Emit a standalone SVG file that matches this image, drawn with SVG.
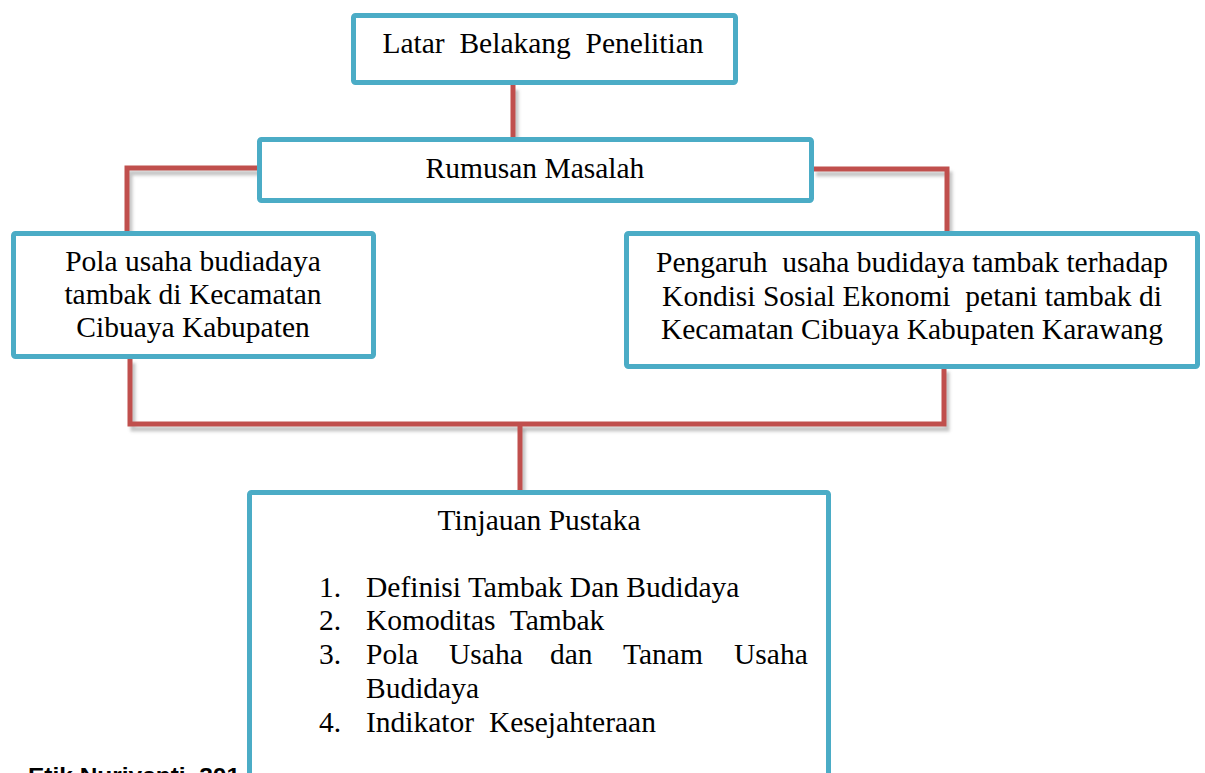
<svg xmlns="http://www.w3.org/2000/svg" width="1205" height="773" viewBox="0 0 1205 773" xml:space="preserve">
<defs>
<filter id="sh" filterUnits="userSpaceOnUse" x="0" y="0" width="1205" height="773">
<feDropShadow dx="3" dy="5" stdDeviation="1.5" flood-color="#808080" flood-opacity="0.45"/>
</filter>
</defs>
<style>
.conn{fill:none;stroke:#C0504D;stroke-width:5;stroke-linejoin:miter;filter:url(#sh)}
.box{fill:#FFFFFF;stroke:#4BACC6;stroke-width:5}
.t{font-family:"Liberation Serif","Times New Roman",serif;font-size:29.5px;fill:#000;white-space:pre}
.c{text-anchor:middle}
.note{font-family:"Liberation Sans",Arial,sans-serif;font-weight:bold;font-size:22px;fill:#000}
</style>
<rect width="1205" height="773" fill="#FFFFFF"/>
<text class="note" x="28" y="783" textLength="212" lengthAdjust="spacingAndGlyphs">Etik Nuriyanti, 201</text>
<g id="connectors">
<path class="conn" d="M513 85 V137"/>
<path class="conn" d="M258 168 H127 V232"/>
<path class="conn" d="M813 169 H947 V232"/>
<path class="conn" d="M130 358 V424 H944 V367"/>
<path class="conn" d="M520 424 V490"/>
</g>
<g id="latar">
<rect class="box" x="353.5" y="15.5" width="382" height="67" rx="2"/>
<text class="t c" x="543" y="53">Latar  Belakang  Penelitian</text>
</g>
<g id="rumusan">
<rect class="box" x="259.5" y="139.5" width="552" height="61" rx="2"/>
<text class="t c" x="535" y="178">Rumusan Masalah</text>
</g>
<g id="pola">
<rect class="box" x="13.5" y="233.5" width="360" height="123" rx="2"/>
<text class="t c" x="193" y="271">Pola usaha budiadaya</text>
<text class="t c" x="193" y="304">tambak di Kecamatan</text>
<text class="t c" x="193" y="337">Cibuaya Kabupaten</text>
</g>
<g id="pengaruh">
<rect class="box" x="626.5" y="233.5" width="571" height="133" rx="2"/>
<text class="t c" x="912" y="272">Pengaruh  usaha budidaya tambak terhadap</text>
<text class="t c" x="912" y="306">Kondisi Sosial Ekonomi  petani tambak di</text>
<text class="t c" x="912" y="339">Kecamatan Cibuaya Kabupaten Karawang</text>
</g>
<g id="tinjauan">
<rect class="box" x="249.5" y="492.5" width="579" height="300" rx="2"/>
<text class="t c" x="539" y="530">Tinjauan Pustaka</text>
<text class="t" x="319" y="597">1.</text>
<text class="t" x="366" y="597">Definisi Tambak Dan Budidaya</text>
<text class="t" x="319" y="630">2.</text>
<text class="t" x="366" y="630">Komoditas  Tambak</text>
<text class="t" x="319" y="664">3.</text>
<text class="t" y="664"><tspan x="366">Pola</tspan> <tspan x="449">Usaha</tspan> <tspan x="550">dan</tspan> <tspan x="623">Tanam</tspan> <tspan x="734">Usaha</tspan></text>
<text class="t" x="366" y="698">Budidaya</text>
<text class="t" x="319" y="732">4.</text>
<text class="t" x="366" y="732">Indikator  Kesejahteraan</text>
</g>
</svg>
